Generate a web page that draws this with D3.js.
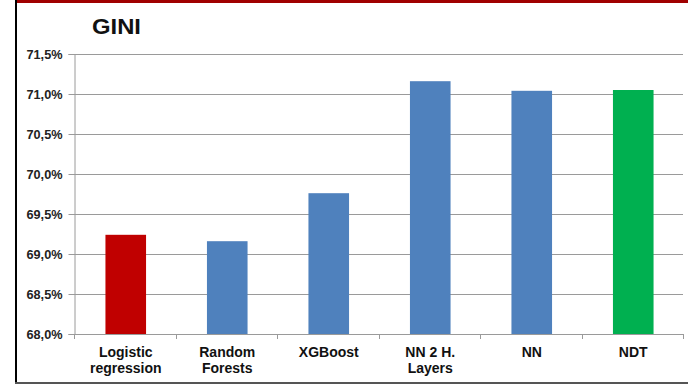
<!DOCTYPE html>
<html><head><meta charset="utf-8">
<script src="https://cdn.jsdelivr.net/npm/d3@7"></script>
<style>body{margin:0;background:#fff}svg{display:block}</style>
</head><body>
<script>
const categories = [["Logistic","regression"],["Random","Forests"],["XGBoost"],["NN 2 H.","Layers"],["NN"],["NDT"]];
const values = [69.24, 69.16, 69.76, 71.16, 71.04, 71.05];
const colors = ["#C00000","#4F81BD","#4F81BD","#4F81BD","#4F81BD","#00B050"];
const yTicks = [68.0, 68.5, 69.0, 69.5, 70.0, 70.5, 71.0, 71.5];
const title = "GINI";

const W = 688, H = 384;
const svg = d3.select("body").append("svg").attr("width", W).attr("height", H);
const font = "Arial, 'Liberation Sans', sans-serif";

// frame
svg.append("rect").attr("x",15).attr("y",0).attr("width",W-15).attr("height",3).attr("fill","#A00000");
svg.append("rect").attr("x",15).attr("y",0).attr("width",2).attr("height",H).attr("fill","#000");
svg.append("rect").attr("x",15).attr("y",H-2).attr("width",W-15).attr("height",2).attr("fill","#555");

const x0 = 74, x1 = 683, yTop = 54, yBot = 334;
const x = d3.scaleBand().domain(categories.map((d,i)=>i)).range([x0,x1]).paddingInner(0.6).paddingOuter(0.3);
const y = d3.scaleLinear().domain([68,71.5]).range([yBot,yTop]);

// grid
svg.append("g").selectAll("line").data(yTicks.slice(1)).join("line")
  .attr("x1",x0).attr("x2",x1).attr("y1",d=>Math.round(y(d))+0.5).attr("y2",d=>Math.round(y(d))+0.5)
  .attr("stroke","#9a9a9a").attr("stroke-width",1);

// bars
svg.append("g").selectAll("rect").data(values).join("rect")
  .attr("x",(d,i)=>x(i)+1).attr("width",x.bandwidth())
  .attr("y",d=>y(d)).attr("height",d=>yBot-y(d))
  .attr("fill",(d,i)=>colors[i]);

// y axis
const yAxis = d3.axisLeft(y).tickValues(yTicks).tickSize(6).tickPadding(6)
  .tickFormat(d=>d.toFixed(1).replace(".",",")+"%");
const gy = svg.append("g").attr("transform",`translate(${x0+0.5},0)`).call(yAxis);
gy.select(".domain").attr("stroke","#9a9a9a");
gy.selectAll(".tick line").attr("stroke","#9a9a9a");
gy.selectAll(".tick text").attr("font-family",font).attr("font-size",13).attr("font-weight","bold").attr("fill","#222")
  .attr("textLength",36).attr("lengthAdjust","spacingAndGlyphs");

// x axis line and boundary ticks
svg.append("line").attr("x1",x0).attr("x2",x1).attr("y1",yBot+0.5).attr("y2",yBot+0.5).attr("stroke","#9a9a9a");
const step = (x1-x0)/categories.length;
svg.append("g").selectAll("line").data(d3.range(categories.length+1)).join("line")
  .attr("x1",i=>Math.round(x0+i*step)+0.5).attr("x2",i=>Math.round(x0+i*step)+0.5)
  .attr("y1",yBot).attr("y2",yBot+5).attr("stroke","#9a9a9a");

// category labels
const lab = svg.append("g").selectAll("text").data(categories).join("text")
  .attr("text-anchor","middle").attr("font-family",font).attr("font-size",14).attr("font-weight","bold").attr("fill","#111")
  .attr("x",(d,i)=>x(i)+1+x.bandwidth()/2);
lab.selectAll("tspan").data(d=>d).join("tspan")
  .attr("x",function(){return this.parentNode.getAttribute("x");})
  .attr("y",(d,j)=>357+j*16).text(d=>d);

// title
svg.append("text").attr("x",92).attr("y",34).attr("font-family",font).attr("font-size",22).attr("font-weight","bold").attr("fill","#111")
  .attr("textLength",49).attr("lengthAdjust","spacingAndGlyphs").text(title);
</script>
</body></html>
